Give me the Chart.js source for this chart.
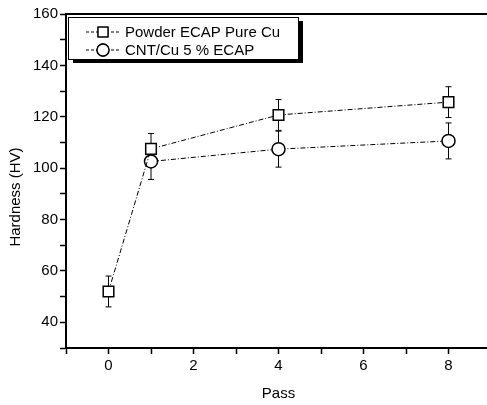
<!DOCTYPE html>
<html>
<head>
<meta charset="utf-8">
<script src="https://cdn.jsdelivr.net/npm/chart.js@4/dist/chart.umd.min.js"></script>
<style>
  html, body { margin: 0; padding: 0; background: #fff; overflow: hidden; }
  canvas { display: block; }
</style>
</head>
<body>
<canvas id="chart" width="500" height="405"></canvas>
<script>
// values
const passes = [0, 1, 4, 8];
const pureCu = [52, 107.5, 120.7, 125.7];
const pureCuErr = [6, 6, 6, 6];

const cntPasses = [1, 4, 8];
const cntCu = [102.6, 107.4, 110.6];
const cntCuErr = [7, 7, 7];

const seriesNames = ["Powder ECAP Pure Cu", "CNT/Cu 5 % ECAP"];
const xLimits = [-1, 9];
const yLimits = [30, 160];

const FONT = "'Liberation Sans', Arial, sans-serif";
const DASH = [5, 2, 1, 2];

function toPoints(xs, ys) {
    return xs.map((x, i) => ({ x: x, y: ys[i] }));
}

const errorBars = {
    id: "errorBars",
    beforeDatasetsDraw(chart) {
        const ctx = chart.ctx;
        const xs = chart.scales.x, ys = chart.scales.y;
        const sets = [[passes, pureCu, pureCuErr], [cntPasses, cntCu, cntCuErr]];
        ctx.save();
        ctx.strokeStyle = "#000";
        ctx.lineWidth = 1;
        sets.forEach(([px, py, pe]) => {
            px.forEach((x, i) => {
                const cx = xs.getPixelForValue(x);
                const top = ys.getPixelForValue(py[i] + pe[i]);
                const bot = ys.getPixelForValue(py[i] - pe[i]);
                ctx.beginPath();
                ctx.moveTo(cx, top); ctx.lineTo(cx, bot);
                ctx.moveTo(cx - 3, top); ctx.lineTo(cx + 3, top);
                ctx.moveTo(cx - 3, bot); ctx.lineTo(cx + 3, bot);
                ctx.stroke();
            });
        });
        ctx.restore();
    }
};

const frame = {
    id: "frame",
    afterDraw(chart) {
        const ctx = chart.ctx;
        const a = chart.chartArea;
        ctx.save();
        // top border
        ctx.strokeStyle = "#000";
        ctx.lineWidth = 2;
        ctx.beginPath();
        ctx.moveTo(a.left, a.top);
        ctx.lineTo(a.right, a.top);
        ctx.lineTo(a.right, a.bottom);
        ctx.stroke();

        // y axis title
        ctx.fillStyle = "#000";
        ctx.font = "15px " + FONT;
        ctx.textAlign = "center";
        ctx.textBaseline = "middle";
        ctx.translate(15.5, 197);
        ctx.rotate(-Math.PI / 2);
        ctx.fillText("Hardness (HV)", 0, 0);
        ctx.restore();

        // legend box with shadow
        const bx = a.left + 2, by = a.top + 3, bw = 230, bh = 42;
        ctx.save();
        ctx.fillStyle = "#000";
        ctx.fillRect(bx + 5, by + 4, bw, bh);
        ctx.fillStyle = "#fff";
        ctx.fillRect(bx, by, bw, bh);
        ctx.strokeStyle = "#000";
        ctx.lineWidth = 1;
        ctx.strokeRect(bx + 0.5, by + 0.5, bw, bh);

        const rows = [by + 15, by + 33];
        const styles = ["rect", "circle"];
        rows.forEach((ry, i) => {
            ctx.save();
            ctx.setLineDash([3, 2]);
            ctx.lineWidth = 1;
            ctx.beginPath();
            ctx.moveTo(bx + 18, ry);
            ctx.lineTo(bx + 52, ry);
            ctx.stroke();
            ctx.restore();
            ctx.fillStyle = "#fff";
            ctx.lineWidth = 1.3;
            Chart.helpers.drawPoint(ctx, {
                pointStyle: styles[i],
                radius: i === 0 ? 7 : 6,
                rotation: 0,
                borderWidth: 1.3
            }, bx + 35, ry);
            ctx.fill();
            ctx.stroke();
            ctx.fillStyle = "#000";
            ctx.font = "15px " + FONT;
            ctx.textAlign = "left";
            ctx.textBaseline = "middle";
            ctx.fillText(seriesNames[i], bx + 57, ry + 1);
        });
        ctx.restore();
    }
};

new Chart("chart", {
    type: "line",
    data: {
        datasets: [{
            label: seriesNames[0],
            data: toPoints(passes, pureCu),
            borderColor: "#000",
            borderWidth: 1,
            borderDash: DASH,
            pointStyle: "rect",
            pointRadius: 7.5,
            pointBorderWidth: 1.5,
            pointBackgroundColor: "#fff",
            pointBorderColor: "#000",
            tension: 0
        }, {
            label: seriesNames[1],
            data: toPoints(cntPasses, cntCu),
            borderColor: "#000",
            borderWidth: 1,
            borderDash: DASH,
            pointStyle: "circle",
            pointRadius: 6.5,
            pointBorderWidth: 1.5,
            pointBackgroundColor: "#fff",
            pointBorderColor: "#000",
            tension: 0
        }]
    },
    options: {
        responsive: false,
        animation: false,
        layout: { padding: { left: 0, top: 14, right: 1, bottom: 0 } },
        plugins: {
            legend: { display: false },
            tooltip: { enabled: false }
        },
        scales: {
            x: {
                type: "linear",
                min: xLimits[0],
                max: xLimits[1],
                border: { color: "#000", width: 2 },
                grid: { drawOnChartArea: false, tickLength: 6, tickColor: "#000", tickWidth: 1.5 },
                ticks: {
                    stepSize: 1,
                    padding: 3,
                    color: "#000",
                    font: { family: FONT, size: 15 },
                    maxRotation: 0,
                    autoSkip: false,
                    callback: v => (v % 2 === 0 ? v : "")
                },
                title: {
                    display: true,
                    text: "Pass",
                    color: "#000",
                    font: { family: FONT, size: 15 },
                    padding: { top: 0, bottom: 2 }
                },
                afterFit: s => {
                    s.height = 57;
                    s.paddingLeft = 0;
                    s.paddingRight = 0;
                }
            },
            y: {
                min: yLimits[0],
                max: yLimits[1],
                border: { color: "#000", width: 2 },
                grid: { drawOnChartArea: false, tickLength: 6, tickColor: "#000", tickWidth: 1.5 },
                ticks: {
                    stepSize: 10,
                    padding: 2,
                    color: "#000",
                    font: { family: FONT, size: 15 },
                    autoSkip: false,
                    callback: v => (v % 20 === 0 ? v : "")
                },
                afterFit: s => { s.width = 66; }
            }
        }
    },
    plugins: [errorBars, frame]
});
</script>
</body>
</html>
